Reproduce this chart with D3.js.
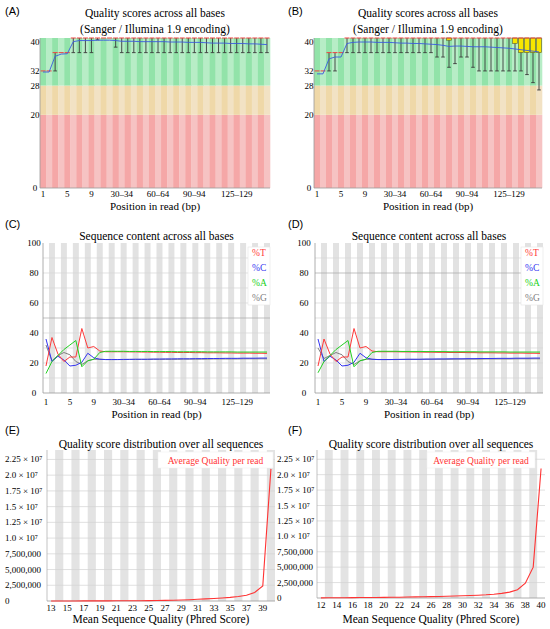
<!doctype html>
<html>
<head>
<meta charset="utf-8">
<script src="https://d3js.org/d3.v7.min.js"></script>
<style>
body { margin:0; background:#fff; }
text { font-family:"Liberation Serif", serif; }
</style>
</head>
<body>
<script>
//*****************
// data
var qualBins = ["1","2","3","4","5","6","7","8","9","10–14","15–19","20–24","25–29","30–34","35–39","40–44",
  "45–49","50–54","55–59","60–64","65–69","70–74","75–79","80–84","85–89","90–94","95–99","100–104",
  "105–109","110–114","115–119","120–124","125–129","130–134","135–139","140–144","145–149","150–151"];
var posTicks = ["1","5","9","30–34","60–64","90–94","125–129"];
var qualYTicks = [0,20,28,32,40];

// (A) per-base quality
var meanA   = [31.7,31.7,36.0,36.6,36.7,40.0,40.3,40.3,40.3,40.4,40.4,40.4,40.3,40.1,40.1,40.1,40.0,40.0,40.0,
               40.0,40.0,39.9,39.9,39.9,39.8,39.8,39.8,39.7,39.6,39.6,39.6,39.5,39.5,39.5,39.4,39.4,39.3,39.2];
var medianA = [32,32,37,37,37,41,41,41,41,41,41,41,41,41,41,41,41,41,41,41,41,41,41,41,41,41,41,41,41,41,41,41,41,41,41,41,41,41];
var q1A     = [32,32,37,37,37,41,41,41,41,41,41,41,41,41,41,41,41,41,41,41,41,41,41,41,41,41,41,41,41,41,41,41,41,41,41,41,41,41];
var q3A     = [32,32,37,37,37,41,41,41,41,41,41,41,41,41,41,41,41,41,41,41,41,41,41,41,41,41,41,41,41,41,41,41,41,41,41,41,41,41];
var p10A    = [32,32,32,37,37,37,37,37,37,40.5,41,41,38.5,37,37,37,37,37,37,37,37,37,37,37,37,37,37,37,37,37,37,37,37,37,37,37,37,37];
var p90A    = [32,32,37,37,37,41,41,41,41,41,41,41,41,41,41,41,41,41,41,41,41,41,41,41,41,41,41,41,41,41,41,41,41,41,41,41,41,41];

// (B) per-base quality
var meanB   = [31.2,31.2,35.3,35.8,35.8,39.5,39.8,39.9,39.9,39.9,39.8,39.8,39.8,39.7,39.6,39.6,39.5,39.5,39.4,
               39.3,39.2,39.0,38.7,38.8,38.8,38.7,38.6,38.6,38.6,38.5,38.4,38.3,38.2,38.0,37.8,37.6,37.4,37.2];
var medianB = [32,32,37,37,37,41,41,41,41,41,41,41,41,41,41,41,41,41,41,41,41,41,41,41,41,41,41,41,41,41,41,41,41,41,41,41,41,41];
var q1B     = [32,32,37,37,37,41,41,41,41,41,41,41,41,41,41,41,41,41,41,41,41,41,40.4,41,41,41,41,41,41,41,41,41,41,39.5,37,37,37,37];
var q3B     = [32,32,37,37,37,41,41,41,41,41,41,41,41,41,41,41,41,41,41,41,41,41,41,41,41,41,41,41,41,41,41,41,41,41,41,41,41,41];
var p10B    = [32,32,32,32,37,37,37,37,37,37,37,37,37,37,37,37,37,37,37,37,35.8,35.8,33,34,35.8,35.8,33,32,32,32,32,32,32,32,32,31,28.8,26.8];
var p90B    = [32,32,37,37,37,41,41,41,41,41,41,41,41,41,41,41,41,41,41,41,41,41,41,41,41,41,41,41,41,41,41,41,41,41,41,41,41,41];

// (C) sequence content
var pctT_C = [18,37,26,21,24,24,43,30,31,28,27.5,27.5,27.5,27.5,27.4,27.4,27.3,27.3,27.2,27.2,27.1,27.1,27,27,
              27,26.9,26.9,26.8,26.8,26.8,26.7,26.7,26.6,26.6,26.6,26.5,26.5,26.4];
var pctC_C = [36,21,24.5,22,18,18.5,20.5,26.5,23.5,22.5,22.3,22.3,22.3,22.4,22.4,22.5,22.5,22.5,22.6,22.6,22.7,22.7,
              22.8,22.8,22.8,22.9,22.9,23,23,23,23.1,23.1,23.1,23.2,23.2,23.2,23.3,23.3];
var pctA_C = [13,21,25,29,32,35,17.5,21.5,22.5,27,27.8,27.8,27.8,27.8,27.7,27.7,27.7,27.7,27.6,27.6,27.6,27.6,
              27.5,27.5,27.5,27.5,27.5,27.4,27.4,27.4,27.4,27.4,27.3,27.3,27.3,27.3,27.3,27.3];
var pctG_C = [32,21.5,25,27,25.5,21,19,21.5,22.5,22.5,22.3,22.3,22.3,22.3,22.4,22.4,22.4,22.4,22.5,22.5,22.5,22.5,
              22.5,22.6,22.6,22.6,22.6,22.6,22.7,22.7,22.7,22.7,22.7,22.8,22.8,22.8,22.8,22.8];

// (D) sequence content
var pctT_D = [18,36,26,21,24,24,43,30,31,28,27.5,27.5,27.5,27.5,27.4,27.4,27.3,27.3,27.2,27.2,27.1,27.1,27,27,
              27,26.9,26.9,26.8,26.8,26.8,26.7,26.7,26.6,26.6,26.6,26.5,26.5,26.4];
var pctC_D = [36,21,24.5,22,18,18.5,20.5,26.5,23.5,22.5,22.3,22.3,22.3,22.4,22.4,22.5,22.5,22.5,22.6,22.6,22.7,22.7,
              22.8,22.8,22.8,22.9,22.9,23,23,23,23.1,23.1,23.1,23.2,23.2,23.2,23.3,23.3];
var pctA_D = [13.5,21,25,29,32,35,17.5,21.5,22.5,27,27.8,27.8,27.8,27.8,27.7,27.7,27.7,27.7,27.6,27.6,27.6,27.6,
              27.5,27.5,27.5,27.5,27.5,27.4,27.4,27.4,27.4,27.4,27.3,27.3,27.3,27.3,27.3,27.3];
var pctG_D = [30,23,25,27,25.5,21,19,21.5,22.5,22.5,22.3,22.3,22.3,22.3,22.4,22.4,22.4,22.4,22.5,22.5,22.5,22.5,
              22.5,22.6,22.6,22.6,22.6,22.6,22.7,22.7,22.7,22.7,22.7,22.8,22.8,22.8,22.8,22.8];
var contentNames = ["%T","%C","%A","%G"];
var contentYTicks = [0,20,40,60,80,100];

// (E),(F) quality score distribution
var phredE = ["13","14","15","16","17","18","19","20","21","22","23","24","25","26","27","28","29","30","31","32",
              "33","34","35","36","37","38","39","40"];
var readsE = [10000,10000,10000,10000,15000,20000,20000,25000,30000,35000,40000,50000,60000,80000,100000,130000,
              170000,210000,270000,330000,400000,480000,580000,720000,920000,1350000,2400000,21000000];
var phredF = ["12","13","14","15","16","17","18","19","20","21","22","23","24","25","26","27","28","29","30","31",
              "32","33","34","35","36","37","38","39","40"];
var readsF = [20000,30000,40000,50000,60000,70000,80000,90000,100000,110000,130000,150000,180000,200000,220000,
              250000,280000,320000,360000,400000,450000,520000,620000,750000,950000,1350000,2400000,5000000,21000000];
var distYTicks = [0,2500000,5000000,7500000,10000000,12500000,15000000,17500000,20000000,22500000];
var distYLabels = ["0","2,500,000","5,000,000","7,500,000","1.0 × 10⁷","1.25 × 10⁷","1.5 × 10⁷","1.75 × 10⁷","2.0 × 10⁷","2.25 × 10⁷"];
//**********************

var svg = d3.select("body").append("svg").attr("width",550).attr("height",629);

var zones = [
  {lo:0,  hi:20, dark:"#f5a7a7", light:"#f6c3c3"},
  {lo:20, hi:28, dark:"#efd8a8", light:"#f2e2c4"},
  {lo:28, hi:41, dark:"#92e3a9", light:"#b7edc6"}
];
var contentColors = ["#ff3a3a","#3434f0","#22d022","#808080"];

function letter(txt, x, y){
  svg.append("text").attr("x",x).attr("y",y).text(txt)
    .style("font-family","'Liberation Sans', sans-serif").style("font-size","11px");
}

function xTicks(g, x, ticks, y){
  g.selectAll(null).data(ticks).enter().append("text")
    .attr("x", function(d){ return x(d) + x.bandwidth()/2; })
    .attr("y", y)
    .attr("text-anchor","middle")
    .style("font-size","9px")
    .text(function(d){ return d; });
}

//-----------quality per base------------
function qualPanel(p){
  var g = svg.append("g");
  var x = d3.scaleBand().domain(qualBins).range([p.left, p.right]);
  var y = d3.scaleLinear().domain([0,41]).range([p.bottom, p.top]);
  var bw = x.bandwidth();

  zones.forEach(function(z){
    g.selectAll(null).data(qualBins).enter().append("rect")
      .attr("x", function(d){ return x(d); })
      .attr("width", bw + 0.3)
      .attr("y", y(z.hi))
      .attr("height", y(z.lo) - y(z.hi))
      .attr("fill", function(d,i){ return i%2 ? z.light : z.dark; });
  });

  // whiskers
  g.selectAll(null).data(qualBins).enter().append("line")
    .filter(function(d,i){ return p.p10[i] < p.p90[i]; })
    .attr("x1", function(d){ return x(d)+bw/2; })
    .attr("x2", function(d){ return x(d)+bw/2; })
    .attr("y1", function(d){ return y(p.p10[qualBins.indexOf(d)]); })
    .attr("y2", function(d){ return y(p.p90[qualBins.indexOf(d)]); })
    .attr("stroke","#3a3a3a").attr("stroke-width",0.9);
  g.selectAll(null).data(qualBins).enter().append("line")
    .filter(function(d,i){ return p.p10[i] < p.q1[i]; })
    .attr("x1", function(d){ return x(d)+bw*0.2; })
    .attr("x2", function(d){ return x(d)+bw*0.8; })
    .attr("y1", function(d){ return y(p.p10[qualBins.indexOf(d)]); })
    .attr("y2", function(d){ return y(p.p10[qualBins.indexOf(d)]); })
    .attr("stroke","#3a3a3a").attr("stroke-width",0.9);

  // boxes
  g.selectAll(null).data(qualBins).enter().append("rect")
    .filter(function(d,i){ return p.q1[i] < p.q3[i]; })
    .attr("x", function(d){ return x(d)+0.6; })
    .attr("width", bw-1.2)
    .attr("y", function(d){ return y(p.q3[qualBins.indexOf(d)]); })
    .attr("height", function(d){ var i = qualBins.indexOf(d); return y(p.q1[i]) - y(p.q3[i]); })
    .attr("fill","#f7e600").attr("stroke","#5a5a2a").attr("stroke-width",0.6);

  // median
  g.selectAll(null).data(qualBins).enter().append("line")
    .attr("x1", function(d){ return x(d)+0.5; })
    .attr("x2", function(d){ return x(d)+bw-0.5; })
    .attr("y1", function(d,i){ return y(p.median[i]); })
    .attr("y2", function(d,i){ return y(p.median[i]); })
    .attr("stroke","#f04040").attr("stroke-width",1);

  // mean
  var line = d3.line()
    .x(function(d,i){ return x(qualBins[i]) + bw/2; })
    .y(function(d){ return y(d); });
  g.append("path").attr("d", line(p.mean))
    .attr("fill","none").attr("stroke","#3a5ae0").attr("stroke-width",0.9);

  // axes
  g.append("line").attr("x1",p.left).attr("x2",p.left).attr("y1",p.top).attr("y2",p.bottom)
    .attr("stroke","#999").attr("stroke-width",0.8);
  g.append("line").attr("x1",p.left).attr("x2",p.right).attr("y1",p.bottom).attr("y2",p.bottom)
    .attr("stroke","#999").attr("stroke-width",0.8);

  g.selectAll(null).data(qualYTicks).enter().append("text")
    .attr("x", p.left - 5).attr("y", function(d){ return y(d)+3; })
    .attr("text-anchor","middle").style("font-size","9px")
    .text(function(d){ return d; });
  xTicks(g, x, posTicks, p.bottom + 8.5);

  var cx = (p.left + p.right)/2;
  g.append("text").attr("x",cx).attr("y",17).attr("text-anchor","middle").style("font-size","11.5px")
    .text("Quality scores across all bases");
  g.append("text").attr("x",cx).attr("y",32.5).attr("text-anchor","middle").style("font-size","11.5px")
    .text("(Sanger / Illumina 1.9 encoding)");
  g.append("text").attr("x",cx).attr("y",p.bottom+21.5).attr("text-anchor","middle").style("font-size","11px")
    .text("Position in read (bp)");
  letter(p.letter, p.letterX, 15);
}

//-----------sequence content------------
function contentPanel(p){
  var g = svg.append("g");
  var x = d3.scaleBand().domain(qualBins).range([p.left, p.right]);
  var y = d3.scaleLinear().domain([0,100]).range([p.bottom, p.top]);
  var bw = x.bandwidth();

  g.selectAll(null).data(qualBins).enter().append("rect")
    .filter(function(d,i){ return i%2 == 1; })
    .attr("x", function(d){ return x(d); }).attr("width", bw)
    .attr("y", p.top).attr("height", p.bottom - p.top)
    .attr("fill","#e2e2e2");

  g.selectAll(null).data(d3.range(10,100,10)).enter().append("line")
    .attr("x1",p.left).attr("x2",p.right)
    .attr("y1",function(d){ return y(d); }).attr("y2",function(d){ return y(d); })
    .attr("stroke",function(d){ return d == p.mark ? "#a8a8a8" : "#d6d6d6"; })
    .attr("stroke-width",0.7);

  var line = d3.line()
    .x(function(d,i){ return x(qualBins[i]) + bw/2; })
    .y(function(d){ return y(d); });
  // draw G, C, T then A on top
  [3,1,0,2].forEach(function(k){
    g.append("path").attr("d", line(p.series[k]))
      .attr("fill","none").attr("stroke",contentColors[k]).attr("stroke-width",1);
  });

  g.append("line").attr("x1",p.left).attr("x2",p.left).attr("y1",p.top).attr("y2",p.bottom)
    .attr("stroke","#999").attr("stroke-width",0.8);
  g.append("line").attr("x1",p.left).attr("x2",p.right).attr("y1",p.bottom).attr("y2",p.bottom)
    .attr("stroke","#999").attr("stroke-width",0.8);

  // legend
  g.append("rect").attr("x",p.right-22).attr("y",p.top+4).attr("width",22).attr("height",58)
    .attr("fill","#fff").attr("stroke","#e4e4e4").attr("stroke-width",0.6);
  g.selectAll(null).data(contentNames).enter().append("text")
    .attr("x",p.right-18).attr("y",function(d,i){ return p.top + 12.5 + i*15; })
    .attr("fill",function(d,i){ return contentColors[i]; })
    .style("font-size","9.5px")
    .text(function(d){ return d; });

  g.selectAll(null).data(contentYTicks).enter().append("text")
    .attr("x", p.tickX).attr("y", function(d){ return y(d)+3; })
    .attr("text-anchor","middle").style("font-size","9px")
    .text(function(d){ return d; });
  xTicks(g, x, posTicks, p.bottom + 11.5);

  var cx = (p.left + p.right)/2;
  g.append("text").attr("x",cx).attr("y",240).attr("text-anchor","middle").style("font-size","11.5px")
    .text("Sequence content across all bases");
  g.append("text").attr("x",cx).attr("y",p.bottom+25).attr("text-anchor","middle").style("font-size","11px")
    .text("Position in read (bp)");
  letter(p.letter, p.letterX, 228);
}

//-----------quality distribution------------
function distPanel(p){
  var g = svg.append("g");
  var x = d3.scaleBand().domain(p.cats).range([p.left, p.right]);
  var y = d3.scaleLinear().domain([0,24000000]).range([p.bottom, p.top]);
  var bw = x.bandwidth();

  g.selectAll(null).data(p.cats).enter().append("rect")
    .filter(function(d,i){ return i%2 == 1; })
    .attr("x", function(d){ return x(d); }).attr("width", bw)
    .attr("y", p.top).attr("height", p.bottom - p.top)
    .attr("fill","#e3e3e3");

  g.selectAll(null).data(distYTicks.slice(1)).enter().append("line")
    .attr("x1",p.left).attr("x2",p.right)
    .attr("y1",function(d){ return y(d); }).attr("y2",function(d){ return y(d); })
    .attr("stroke","#d2d2d2").attr("stroke-width",0.7);

  g.append("line").attr("x1",p.left).attr("x2",p.left).attr("y1",p.top).attr("y2",p.bottom)
    .attr("stroke","#aaa").attr("stroke-width",0.7);
  g.append("line").attr("x1",p.left).attr("x2",p.right).attr("y1",p.bottom).attr("y2",p.bottom)
    .attr("stroke","#999").attr("stroke-width",0.8);

  var line = d3.line()
    .x(function(d,i){ return x(p.cats[i]) + bw/2; })
    .y(function(d){ return y(d); });
  g.append("path").attr("d", line(p.values))
    .attr("fill","none").attr("stroke","#ff3333").attr("stroke-width",1.1);

  // legend
  g.append("rect").attr("x",p.legX).attr("y",p.top+2).attr("width",p.legW).attr("height",16)
    .attr("fill","#fff").attr("stroke","#eee").attr("stroke-width",0.5);
  g.append("text").attr("x",p.legX + p.legW/2).attr("y",p.top+13.5).attr("text-anchor","middle")
    .attr("fill","#ff3333").style("font-size","9.5px").text("Average Quality per read");

  g.selectAll(null).data(distYTicks).enter().append("text")
    .attr("x", p.tickX).attr("y", function(d){ return y(d)+3; })
    .style("font-size","9px")
    .text(function(d,i){ return distYLabels[i]; });
  xTicks(g, x, p.cats.filter(function(d,i){ return i%2 == 0; }), p.bottom + 9.5);

  var cx = (p.left + p.right)/2;
  g.append("text").attr("x",cx).attr("y",448).attr("text-anchor","middle").style("font-size","11.5px")
    .text("Quality score distribution over all sequences");
  g.append("text").attr("x",cx).attr("y",623).attr("text-anchor","middle").style("font-size","11.5px")
    .text("Mean Sequence Quality (Phred Score)");
  letter(p.letter, p.letterX, 434);
}

qualPanel({letter:"(A)", letterX:5, left:40, right:270, top:38, bottom:188,
  mean:meanA, median:medianA, q1:q1A, q3:q3A, p10:p10A, p90:p90A});
qualPanel({letter:"(B)", letterX:288, left:314, right:542, top:38, bottom:188,
  mean:meanB, median:medianB, q1:q1B, q3:q3B, p10:p10B, p90:p90B});

contentPanel({letter:"(C)", letterX:5, left:43, right:270, top:243, bottom:393, tickX:34, mark:50,
  series:[pctT_C, pctC_C, pctA_C, pctG_C]});
contentPanel({letter:"(D)", letterX:288, left:315, right:543, top:243, bottom:393, tickX:304, mark:80,
  series:[pctT_D, pctC_D, pctA_D, pctG_D]});

distPanel({letter:"(E)", letterX:5, left:47, right:275, top:450, bottom:601, tickX:5,
  cats:phredE, values:readsE, legX:158, legW:115});
distPanel({letter:"(F)", letterX:288, left:317, right:545, top:450, bottom:598, tickX:277,
  cats:phredF, values:readsF, legX:427, legW:108});
</script>
</body>
</html>
